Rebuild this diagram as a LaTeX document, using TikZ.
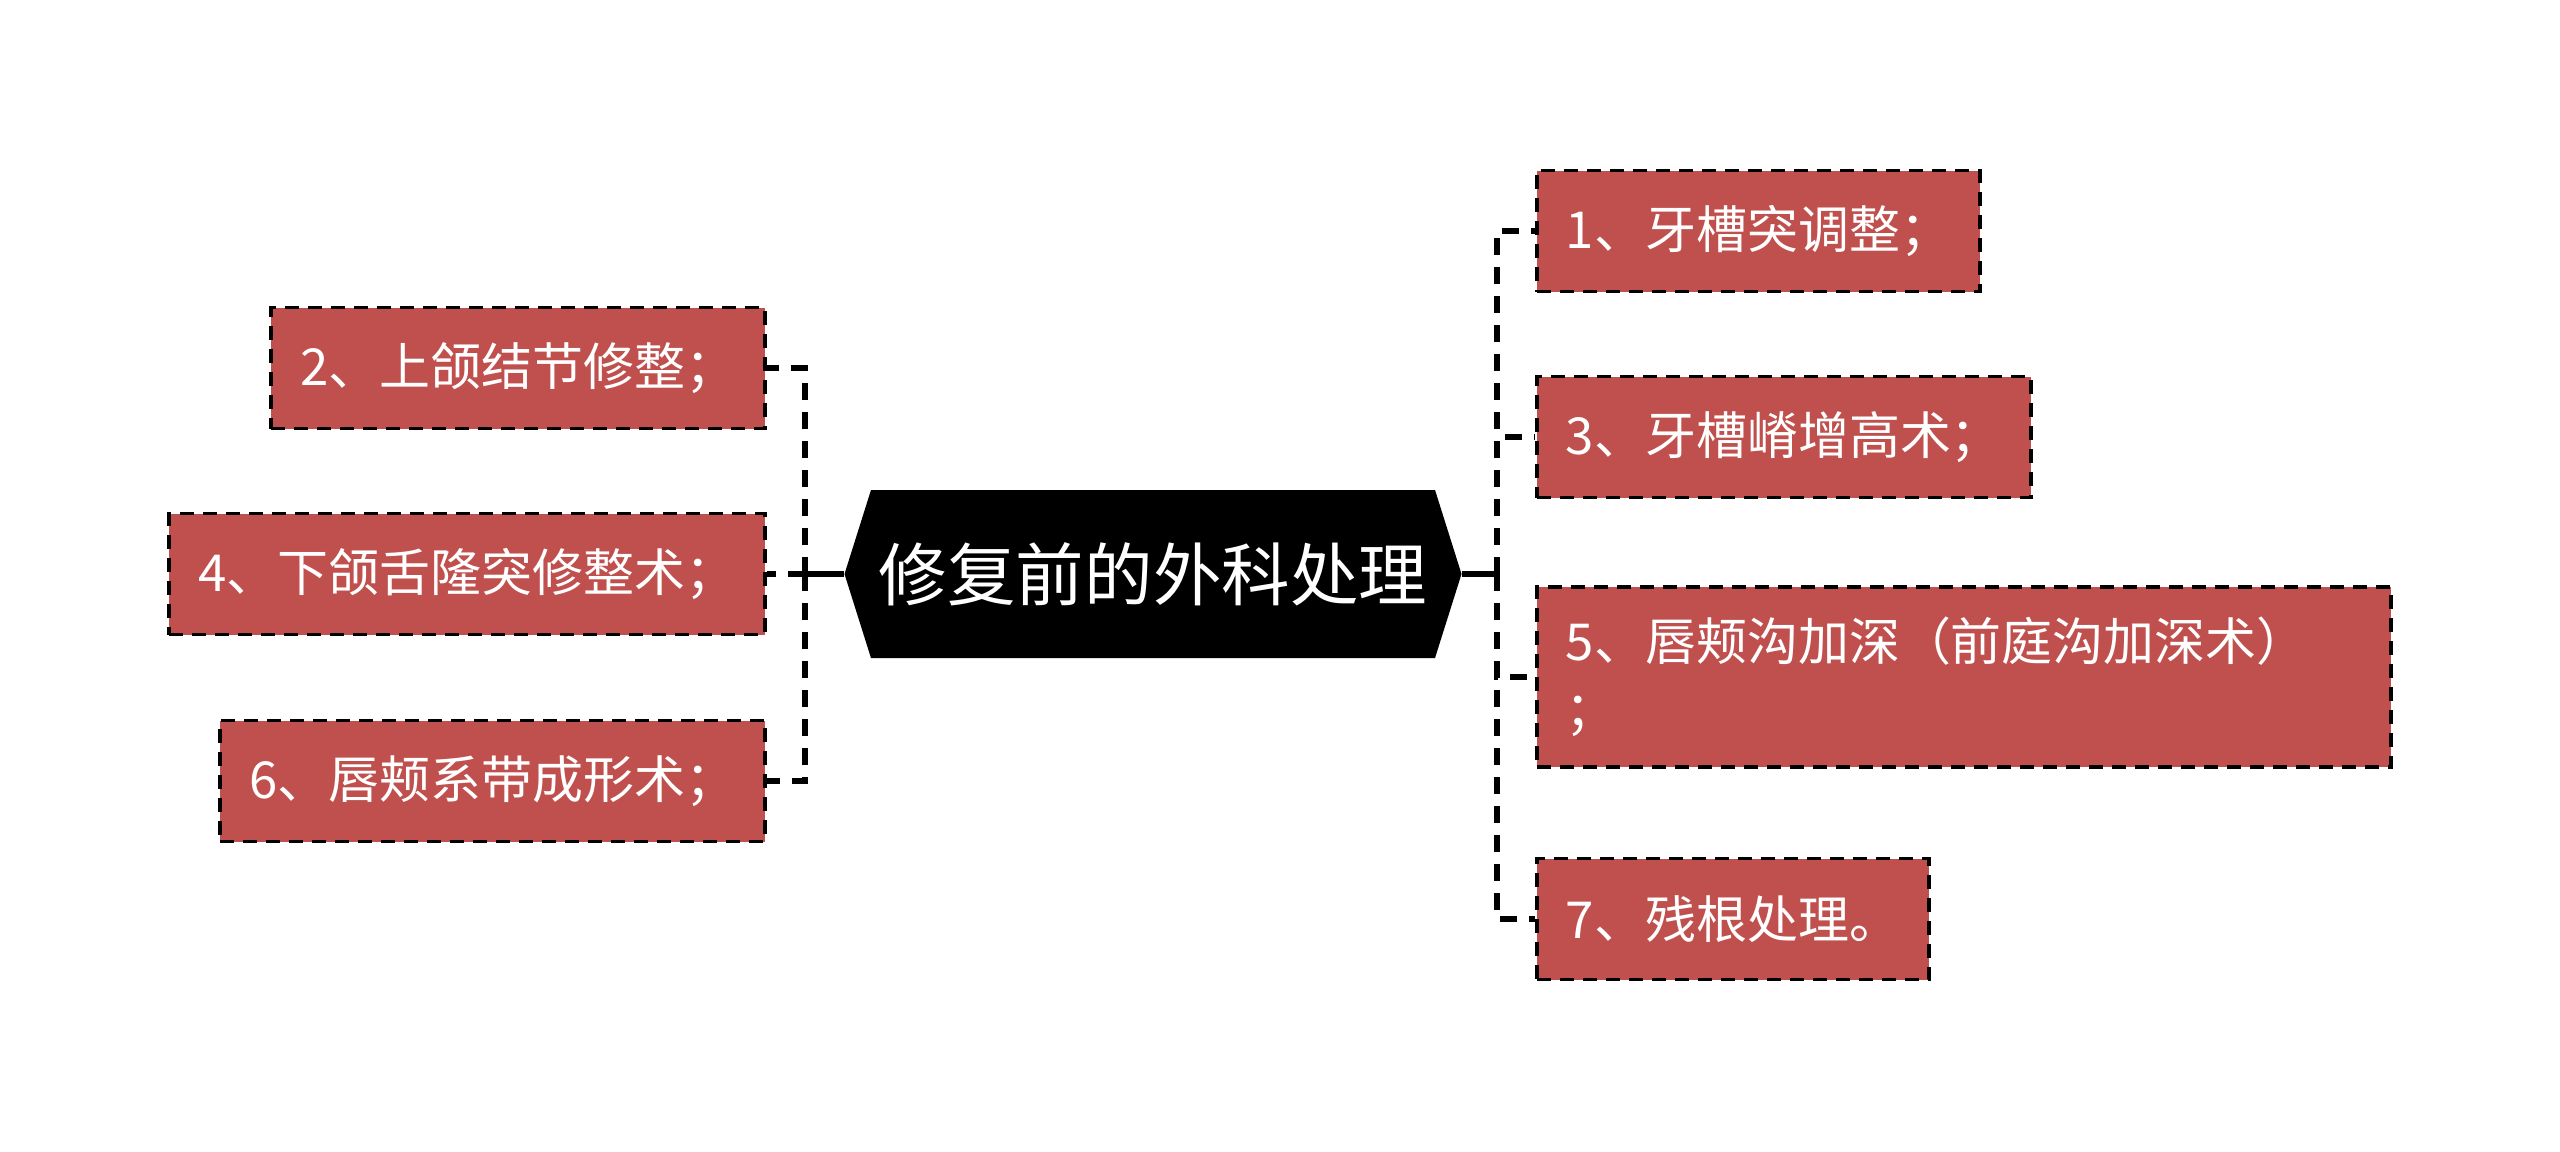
\documentclass[tikz,border=0pt]{standalone}
\usepackage{fontspec}
\setmainfont{Noto Sans CJK SC}
\usepackage{xcolor}
\usetikzlibrary{positioning, shapes.symbols}
\definecolor{itemred}{HTML}{C0504D}

\begin{document}
\begin{tikzpicture}[
        hub/.style={signal, signal to=west and east, signal pointer angle=145, fill=black, text=white,
            font=\fontsize{19.5pt}{23pt}\selectfont, minimum width=6.17cm, minimum height=1.68cm, inner sep=0pt},
        item/.style={rectangle, draw=black, line width=1.1pt, dash pattern=on 0.14cm off 0.09cm,
            fill=itemred, text=white, font=\fontsize{14.5pt}{19.3pt}\selectfont,
            minimum height=1.21cm, inner xsep=0.29cm, inner ysep=0.3cm, align=left},
        trunk/.style={line width=1.8pt},
        branch/.style={line width=1.8pt, dash pattern=on 0.17cm off 0.12cm}
        ]

        \useasboundingbox (0,0) rectangle (25.6,-11.51);

        % Central topic
        \node[hub] (root) at (11.53,-5.74) {修复前的外科处理};
        \coordinate (rj) at (14.97,-5.74);
        \coordinate (lj) at (8.05,-5.74);

        % Right side
        \node[item, anchor=west] (s1) at (15.35,-2.31) {1、牙槽突调整；};
        \node[item, anchor=west] (s3) at (15.35,-4.37) {3、牙槽嵴增高术；};
        \node[item, anchor=west, text width=7.96cm] (s5) at (15.35,-6.77) {5、唇颊沟加深（前庭沟加深术）\\；};
        \node[item, anchor=west] (s7) at (15.35,-9.19) {7、残根处理。};

        % Left side
        \node[item, anchor=east] (s2) at (7.67,-3.68) {2、上颌结节修整；};
        \node[item, anchor=east] (s4) at (7.67,-5.74) {4、下颌舌隆突修整术；};
        \node[item, anchor=east] (s6) at (7.67,-7.81) {6、唇颊系带成形术；};

        % Connectors
        \draw[trunk] (root.east) -- (rj);
        \foreach \n in {s1,s3,s5,s7} {
            \draw[branch] (rj) |- (\n.west);
        }
        \draw[trunk] (root.west) -- (lj);
        \foreach \n in {s2,s4,s6} {
            \draw[branch] (lj) |- (\n.east);
        }

    \end{tikzpicture}
\end{document}
